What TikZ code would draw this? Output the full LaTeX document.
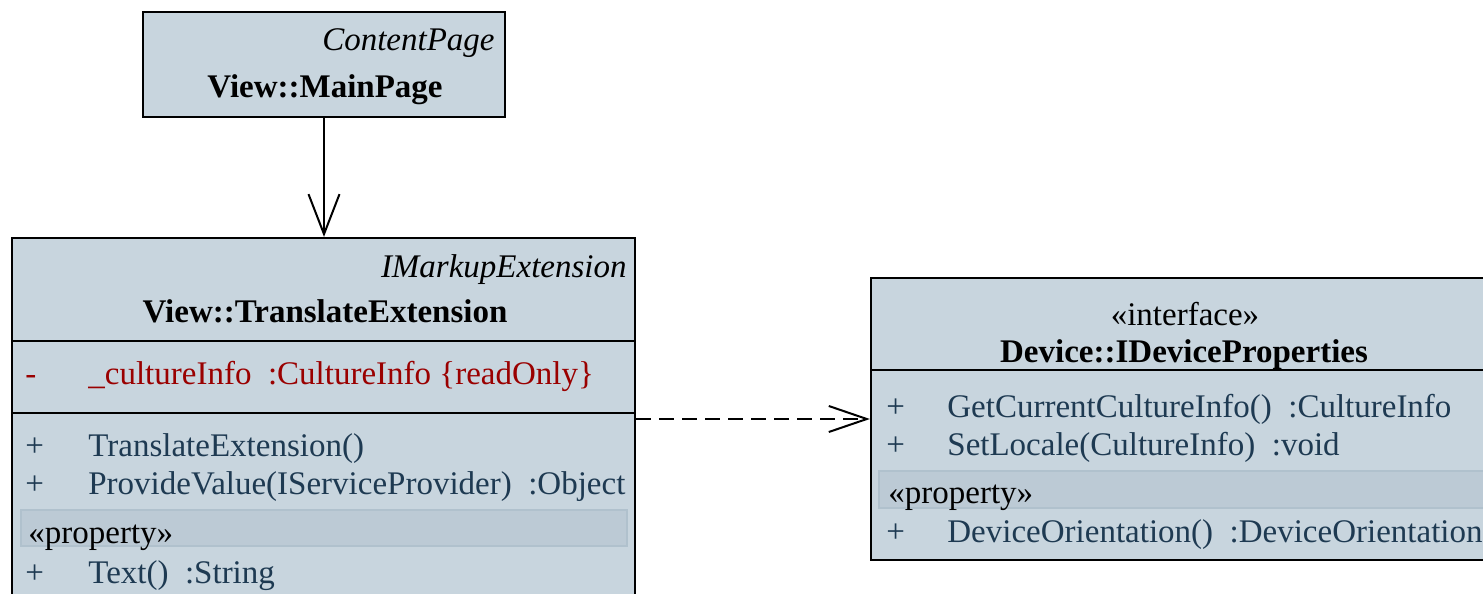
\documentclass[tikz,border=0pt]{standalone}
\usepackage{fontspec}
\setmainfont{Liberation Serif}
\usetikzlibrary{arrows.meta}

\definecolor{classfill}{HTML}{C8D5DE}
\definecolor{bandfill}{HTML}{BCCAD5}
\definecolor{bandline}{HTML}{B0C1CD}
\definecolor{optext}{HTML}{1E3A52}
\definecolor{attrtext}{HTML}{9A0000}

\newcommand{\umlsize}{\fontsize{16.5}{19}\selectfont}

\begin{document}
\begin{tikzpicture}[x=0.5pt, y=-0.5pt,
  font=\umlsize,
  classbox/.style={draw=black, fill=classfill, line width=1.1pt, inner sep=0pt},
  divider/.style={draw=black, line width=1.1pt},
  band/.style={fill=bandfill, draw=bandline, line width=0.8pt},
  member/.style={anchor=base west, inner sep=0pt, text=optext},
  attr/.style={anchor=base west, inner sep=0pt, text=attrtext},
  stereo/.style={anchor=base west, inner sep=0pt, text=black},
  parentname/.style={anchor=base east, inner sep=0pt, font=\umlsize\itshape},
  classname/.style={anchor=base, inner sep=0pt, font=\umlsize\bfseries},
  assoc/.style={draw=black, line width=1pt, -{Straight Barb[length=20pt, width=15.5pt]}},
  realize/.style={draw=black, line width=1pt, dash pattern=on 7.5pt off 4pt,
    -{Straight Barb[length=19pt, width=13pt]}}
]
\useasboundingbox (0,0) rectangle (1483,594);
\clip (0,0) rectangle (1483,594);

% ---- View::MainPage ----
\node[classbox, minimum width=181pt, minimum height=52.5pt] (main) at (324,64.5) {};
\node[parentname] (main-parent) at (495,50) {ContentPage};
\node[classname] (main-name) at (325,97) {View::MainPage};

% ---- View::TranslateExtension ----
\node[classbox, minimum width=311.5pt, minimum height=201pt] (te) at (323.5,439) {};
\draw[divider] (12,341) -- (635,341);
\draw[divider] (12,413) -- (635,413);
\draw[band] (21,510) rectangle (627,546);
\node[parentname] (te-parent) at (627,277) {IMarkupExtension};
\node[classname] (te-name) at (325,322) {View::TranslateExtension};
\node[attr] (te-a1v) at (25,384) {-};
\node[attr] (te-a1) at (88,384) {\_cultureInfo\ \ :CultureInfo \{readOnly\}};
\node[member] (te-o1v) at (25,456) {+};
\node[member] (te-o1) at (88,456) {TranslateExtension()};
\node[member] (te-o2v) at (25,494) {+};
\node[member] (te-o2) at (88,494) {ProvideValue(IServiceProvider)\ \ :Object};
\node[stereo] (te-prop) at (28,543) {«property»};
\node[member] (te-p1v) at (25,583) {+};
\node[member] (te-p1) at (88,583) {Text()\ \ :String};

% ---- Device::IDeviceProperties ----
\node[classbox, minimum width=313pt, minimum height=141pt] (dev) at (1184,419) {};
\draw[divider] (871,370) -- (1497,370);
\draw[band] (879,471) rectangle (1497,508);
\node[anchor=base, inner sep=0pt] (dev-stereo) at (1185,325) {«interface»};
\node[classname] (dev-name) at (1184,362) {Device::IDeviceProperties};
\node[member] (dev-o1v) at (886,417) {+};
\node[member] (dev-o1) at (947,417) {GetCurrentCultureInfo()\ \ :CultureInfo};
\node[member] (dev-o2v) at (886,455) {+};
\node[member] (dev-o2) at (947,455) {SetLocale(CultureInfo)\ \ :void};
\node[stereo] (dev-prop) at (888,503) {«property»};
\node[member] (dev-p1v) at (886,542) {+};
\node[member] (dev-p1) at (947,542) {DeviceOrientation()\ \ :DeviceOrientation};

% ---- connectors ----
\draw[assoc] (main.south) -- (main.south |- te.north);
\draw[realize] (te.east |- dev.west) -- (dev.west);
\end{tikzpicture}
\end{document}
